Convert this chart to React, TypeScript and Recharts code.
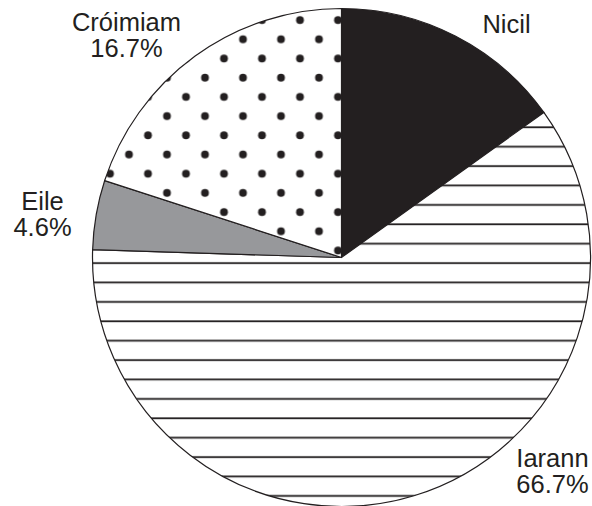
import React from 'react';
import { PieChart, Pie, Cell } from 'recharts';

// slice sizes as drawn (angles), in clockwise order from 12 o'clock
const categories = ['Nicil', 'Iarann', 'Eile', 'Cróimiam'];
const shares = [15.1, 60.4, 4.5, 20.0];
// percentages printed next to the slices
const percentLabels = ['', '66.7%', '4.6%', '16.7%'];

const fills = ['#231f20', 'url(#stripes)', '#97989b', 'url(#dots)'];

// label anchor (centre of text, first baseline) relative to pie centre
const labelOffsets: Record<string, [number, number]> = {
  Nicil: [165, -225],
  Iarann: [211, 209],
  Eile: [-299, -48],
  Cróimiam: [-215, -227],
};

const data = categories.map((name, i) => ({ name, value: shares[i], pct: percentLabels[i] }));

const INK = '#231f20';
const FONT = '"Liberation Sans", Arial, sans-serif';

const renderLabel = (props: any) => {
  const { cx, cy, index } = props;
  const d = data[index];
  const [dx, dy] = labelOffsets[d.name];
  const x = cx + dx;
  const y = cy + dy;
  return (
    <text x={x} y={y} textAnchor="middle" fill={INK} fontSize={25.5} fontFamily={FONT}>
      <tspan x={x} y={y}>{d.name}</tspan>
      {d.pct && <tspan x={x} y={y + 26}>{d.pct}</tspan>}
    </text>
  );
};

export default function App() {
  return (
    <div style={{ position: 'absolute', left: 0, top: 0, background: '#fff' }}>
      <PieChart width={592} height={506} margin={{ top: 0, right: 0, bottom: 0, left: 0 }}>
        <defs>
          <pattern id="stripes" patternUnits="userSpaceOnUse" x={0} y={0} width={20} height={19.4}>
            <rect x={0} y={0} width={20} height={19.4} fill="#fff" />
            <line x1={0} x2={20} y1={10.9} y2={10.9} stroke={INK} strokeWidth={1.8} />
          </pattern>
          <pattern id="dots" patternUnits="userSpaceOnUse" x={309.5} y={29.7} width={38} height={38.4}>
            <rect x={0} y={0} width={38} height={38.4} fill="#fff" />
            <circle cx={9.5} cy={9.6} r={3.9} fill={INK} />
            <circle cx={28.5} cy={28.8} r={3.9} fill={INK} />
          </pattern>
        </defs>
        <Pie
          data={data}
          dataKey="value"
          nameKey="name"
          cx={341.5}
          cy={257.5}
          outerRadius={249}
          startAngle={90}
          endAngle={-270}
          stroke={INK}
          strokeWidth={1.2}
          label={renderLabel}
          labelLine={false}
          isAnimationActive={false}
        >
          {data.map((d, i) => (
            <Cell key={d.name} fill={fills[i]} />
          ))}
        </Pie>
      </PieChart>
    </div>
  );
}
